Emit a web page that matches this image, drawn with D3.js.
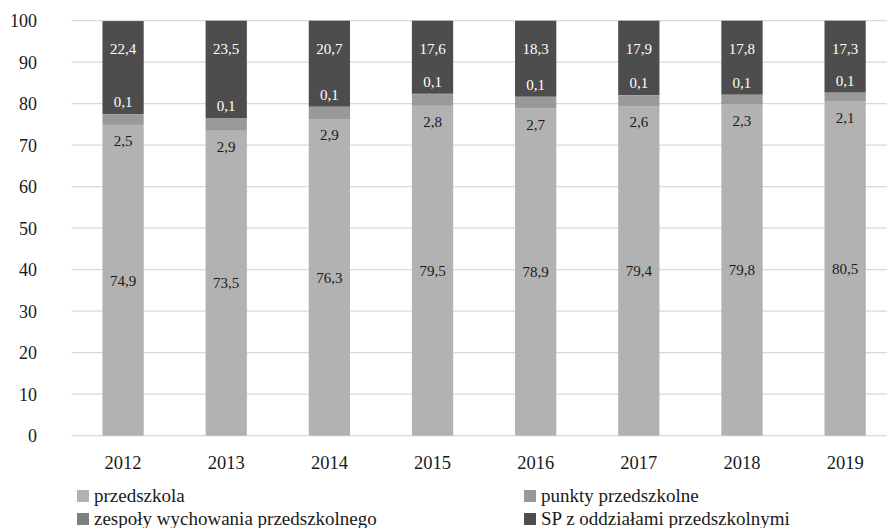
<!DOCTYPE html>
<html><head><meta charset="utf-8">
<script src="https://cdn.jsdelivr.net/npm/d3@7"></script>
<style>body{margin:0;background:#fff}svg{display:block}text{font-family:"Liberation Serif","DejaVu Serif",serif}</style>
</head><body>
<svg id="c" width="887" height="528"></svg>
<script>
const years = ["2012","2013","2014","2015","2016","2017","2018","2019"];
const przedszkola = [74.9,73.5,76.3,79.5,78.9,79.4,79.8,80.5];
const punkty = [2.5,2.9,2.9,2.8,2.7,2.6,2.3,2.1];
const zespoly = [0.1,0.1,0.1,0.1,0.1,0.1,0.1,0.1];
const sp = [22.4,23.5,20.7,17.6,18.3,17.9,17.8,17.3];
const yTicks = [0,10,20,30,40,50,60,70,80,90,100];
const seriesNames = ["przedszkola","punkty przedszkolne","zespoły wychowania przedszkolnego","SP z oddziałami przedszkolnymi"];
const colors = ["#b2b2b2","#999999","#7f7f7f","#4d4d4d"];
const labelColors = ["#1a1a1a","#1a1a1a","#ffffff","#ffffff"];

const svg = d3.select("#c");
const x = d3.scaleBand().domain(years).range([71.5,896.7]).paddingInner(0.6).paddingOuter(0.3);
const y = d3.scaleLinear().domain([0,100]).range([435.7,20.7]);

// gridlines
svg.append("g").selectAll("line").data(yTicks).join("line")
  .attr("x1",71.5).attr("x2",887).attr("y1",d=>y(d)).attr("y2",d=>y(d))
  .attr("stroke","#d9d9d9").attr("stroke-width",1.3);

// y labels
svg.append("g").selectAll("text").data(yTicks).join("text")
  .attr("x",37).attr("y",d=>y(d)).attr("dy","0.35em").attr("text-anchor","end")
  .attr("font-size",18).attr("fill","#1a1a1a").text(d=>d);

// x labels
svg.append("g").selectAll("text").data(years).join("text")
  .attr("x",d=>x(d)+x.bandwidth()/2).attr("y",469).attr("text-anchor","middle")
  .attr("font-size",18.5).attr("fill","#1a1a1a").text(d=>d);

const rows = years.map((yr,i)=>({year:yr,przedszkola:przedszkola[i],punkty:punkty[i],zespoly:zespoly[i],sp:sp[i]}));
const keys = ["przedszkola","punkty","zespoly","sp"];
const stacked = d3.stack().keys(keys)(rows);

const g = svg.append("g");
stacked.forEach((s,si)=>{
  g.append("g").selectAll("rect").data(s).join("rect")
    .attr("x",d=>x(d.data.year)).attr("width",x.bandwidth())
    .attr("y",d=>y(d[1])).attr("height",d=>y(d[0])-y(d[1]))
    .attr("fill",colors[si]);
});

const fmt = v => String(v).replace(".",",");
function labelY(si,d){
  if(si===0) return (y(d[0])+y(d[1]))/2;
  if(si===1) return y(d[0])+16;
  if(si===2) return y(d[1])-12;
  return y(d[1])+28;
}
stacked.forEach((s,si)=>{
  g.append("g").selectAll("text").data(s).join("text")
    .attr("x",d=>x(d.data.year)+x.bandwidth()/2)
    .attr("y",d=>labelY(si,d)).attr("dy","0.35em").attr("text-anchor","middle")
    .attr("font-size",15).attr("fill",labelColors[si])
    .text(d=>fmt(d.data[keys[si]]));
});

// legend
const legPos = [[77,502],[524,502],[77,525],[524,525]];
const leg = svg.append("g");
seriesNames.forEach((n,i)=>{
  const [lx,ly] = legPos[i];
  leg.append("rect").attr("x",lx).attr("y",ly-12).attr("width",12).attr("height",12).attr("fill",colors[i]);
  leg.append("text").attr("x",lx+17).attr("y",ly).attr("font-size",19).attr("fill","#1a1a1a").text(n);
});
</script>
</body></html>
